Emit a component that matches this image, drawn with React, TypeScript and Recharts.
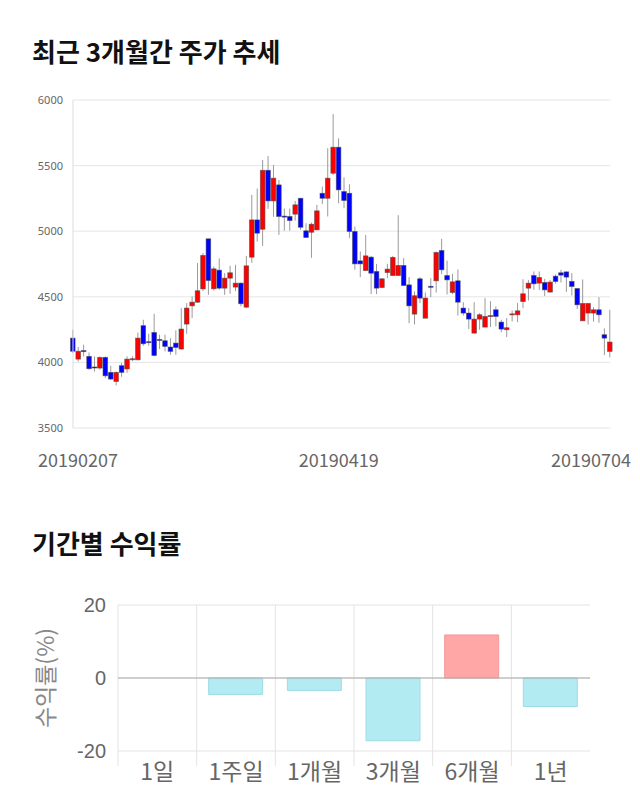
import React from 'react';
import { ComposedChart, BarChart, Bar, XAxis, YAxis, CartesianGrid, Cell, ReferenceLine } from 'recharts';

const dates = [
  '20190207','20190211','20190212','20190213','20190214','20190215','20190218','20190219','20190220','20190221',
  '20190222','20190225','20190226','20190227','20190228','20190304','20190305','20190306','20190307','20190308',
  '20190311','20190312','20190313','20190314','20190315','20190318','20190319','20190320','20190321','20190322',
  '20190325','20190326','20190327','20190328','20190329','20190401','20190402','20190403','20190404','20190405',
  '20190408','20190409','20190410','20190411','20190412','20190415','20190416','20190417','20190418','20190419',
  '20190422','20190423','20190424','20190425','20190426','20190429','20190430','20190503','20190507','20190508',
  '20190509','20190510','20190513','20190514','20190515','20190516','20190517','20190520','20190521','20190522',
  '20190523','20190524','20190527','20190528','20190529','20190530','20190531','20190603','20190604','20190605',
  '20190607','20190610','20190611','20190612','20190613','20190614','20190617','20190618','20190619','20190620',
  '20190621','20190624','20190625','20190626','20190627','20190628','20190701','20190702','20190703','20190704',
];

const opens = [
  4185, 4025, 4090, 4046, 3965, 3957, 4038, 3924, 3855, 3975,
  3950, 4025, 4020, 4280, 4158, 4228, 4175, 4165, 4117, 4147,
  4102, 4292, 4431, 4459, 4560, 4942, 4561, 4703, 4566, 4642,
  4574, 4604, 4421, 4802, 5086, 5015, 5464, 5231, 5353, 5115,
  5112, 5130, 5251, 5003, 4992, 5010, 5289, 5251, 5442, 5640,
  5302, 5289, 4998, 4774, 4700, 4802, 4693, 4571, 4685, 4662,
  4662, 4739, 4591, 4368, 4637, 4337, 4580, 4622, 4853, 4662,
  4533, 4622, 4414, 4376, 4223, 4330, 4269, 4352, 4401, 4307,
  4249, 4366, 4363, 4464, 4566, 4662, 4604, 4609, 4536, 4657,
  4683, 4690, 4617, 4563, 4317, 4376, 4376, 4401, 4211, 4084,
];
const highs = [
  4250, 4117, 4135, 4076, 4046, 4046, 4046, 3975, 3931, 3995,
  4046, 4046, 4228, 4325, 4218, 4370, 4211, 4211, 4185, 4244,
  4414, 4452, 4503, 4757, 4833, 4942, 4731, 4793, 4680, 4736,
  4744, 4609, 4812, 5277, 5325, 5543, 5574, 5505, 5391, 5173,
  5173, 5231, 5251, 5061, 5066, 5201, 5340, 5632, 5893, 5708,
  5411, 5358, 5036, 4845, 4972, 4812, 4751, 4642, 4751, 4812,
  5122, 4795, 4650, 4541, 4650, 4533, 4642, 4845, 4942, 4776,
  4675, 4708, 4459, 4414, 4459, 4376, 4490, 4467, 4426, 4325,
  4338, 4396, 4452, 4634, 4629, 4693, 4693, 4637, 4629, 4670,
  4706, 4693, 4680, 4563, 4632, 4454, 4421, 4497, 4259, 4401,
];
const lows = [
  4070, 4007, 4045, 3944, 3930, 3944, 3880, 3868, 3825, 3890,
  3920, 4010, 4015, 4127, 4127, 4046, 4102, 4084, 4058, 4058,
  4097, 4218, 4338, 4452, 4543, 4515, 4548, 4553, 4515, 4523,
  4543, 4427, 4414, 4759, 4921, 4888, 5170, 5109, 4972, 5003,
  5003, 5081, 5010, 4952, 4797, 5010, 5208, 5112, 5429, 5213,
  5175, 4947, 4706, 4650, 4700, 4521, 4521, 4566, 4642, 4662,
  4662, 4586, 4299, 4289, 4452, 4337, 4497, 4533, 4673, 4518,
  4520, 4357, 4357, 4254, 4223, 4249, 4269, 4269, 4274, 4229,
  4193, 4312, 4307, 4414, 4472, 4553, 4553, 4505, 4533, 4602,
  4609, 4538, 4510, 4406, 4317, 4289, 4310, 4302, 4056, 4038,
];
const closes = [
  4085, 4085, 4082, 3952, 3960, 4038, 3898, 3873, 3924, 3924,
  4025, 4028, 4185, 4142, 4155, 4053, 4172, 4122, 4084, 4114,
  4254, 4414, 4459, 4546, 4815, 4624, 4713, 4566, 4642, 4683,
  4604, 4447, 4736, 5086, 4985, 5464, 5231, 5404, 5112, 5112,
  5081, 5201, 5030, 4952, 5053, 5155, 5251, 5404, 5640, 5315,
  5234, 4998, 4751, 4751, 4812, 4680, 4566, 4637, 4711, 4800,
  4739, 4586, 4431, 4508, 4490, 4490, 4579, 4838, 4706, 4629,
  4614, 4459, 4376, 4330, 4330, 4363, 4350, 4357, 4350, 4254,
  4264, 4370, 4393, 4523, 4604, 4599, 4647, 4553, 4612, 4617,
  4665, 4650, 4579, 4439, 4449, 4449, 4401, 4363, 4185, 4155,
];

const priceTicks = [3500, 4000, 4500, 5000, 5500, 6000];
const dateTickIdx = [0, 49, 99];

const periods = ['1일', '1주일', '1개월', '3개월', '6개월', '1년'];
const returns = [0, -4.5, -3.4, -17.2, 11.8, -7.8];
const returnTicks = [-20, 0, 20];

const candleData = dates.map((d, i) => ({
  i,
  date: d,
  open: opens[i],
  high: highs[i],
  low: lows[i],
  close: closes[i],
  range: [lows[i], highs[i]],
}));
const returnData = periods.map((p, i) => ({ period: p, value: returns[i] }));

const KFONT = '"Noto Sans CJK KR", "Noto Sans", sans-serif';

const Candle = (props: any) => {
  const { x, y, width, height, payload } = props;
  if (x == null || y == null || !payload) return null;
  const { open, close, high, low } = payload;
  const cx = x + width / 2;
  const span = high - low;
  const toY = (p: number) => (span === 0 ? y : y + ((high - p) / span) * height);
  const up = close > open;
  const top = toY(Math.max(open, close));
  const bot = toY(Math.min(open, close));
  const bh = Math.max(bot - top, 1);
  return (
    <g>
      <line x1={cx} x2={cx} y1={y} y2={y + height} stroke="#9a9a9a" strokeWidth={1} />
      <rect x={cx - 2.3} y={top} width={4.6} height={bh} fill={up ? '#ff0000' : '#0000ff'} stroke="rgba(70,70,70,0.65)" strokeWidth={0.8} />
    </g>
  );
};

const DateTick = (props: any) => {
  const { x, y, payload } = props;
  const v = payload.value;
  const label = dates[v];
  const anchor = v === dateTickIdx[2] ? 'end' : 'middle';
  const dx = v === dateTickIdx[0] ? 5 : v === dateTickIdx[2] ? 21 : 0;
  return (
    <text x={x + dx} y={y} dy={39} textAnchor={anchor} fill="#666" fontSize={18} fontFamily={KFONT}>
      {label}
    </text>
  );
};

const PeriodTick = (props: any) => {
  const { x, y, payload, width, visibleTicksCount } = props;
  const bw = width / (visibleTicksCount || periods.length);
  const lx = x - bw / 2;
  return (
    <g>
      <line x1={lx} x2={lx} y1={y - 13} y2={y + 2} stroke="#e3e3e3" />
      <text x={x} y={y} dy="0.71em" textAnchor="middle" fill="#666" fontSize={23} fontFamily={KFONT}>
        {payload.value}
      </text>
    </g>
  );
};

export default function App() {
  return (
    <div style={{ position: 'absolute', left: 0, top: 0, width: 640, height: 810, background: '#fff', fontFamily: KFONT }}>
      <div style={{ position: 'absolute', left: 32, top: 35, fontSize: 26, fontWeight: 700, color: '#111', lineHeight: '32px', whiteSpace: 'nowrap' }}>
        최근 3개월간 주가 추세
      </div>
      <div style={{ position: 'absolute', left: 0, top: 0 }}>
        <ComposedChart width={640} height={480} data={candleData} margin={{ top: 100, right: 30, left: 0, bottom: 0 }}>
          <CartesianGrid vertical={false} stroke="#e6e6e6" />
          <XAxis
            dataKey="i"
            type="number"
            domain={[0, 99]}
            ticks={dateTickIdx}
            interval={0}
            height={52}
            axisLine={false}
            tickLine={false}
            tickSize={0}
            tickMargin={0}
            tick={<DateTick />}
          />
          <YAxis
            domain={[3500, 6000]}
            ticks={priceTicks}
            width={73}
            tickLine={false}
            tickSize={0}
            tickMargin={10}
            axisLine={{ stroke: '#dcdcdc' }}
            tick={{ fontSize: 11, fill: '#666', fontFamily: '"Noto Sans", sans-serif' }}
          />
          <Bar dataKey="range" barSize={5} shape={<Candle />} isAnimationActive={false} />
        </ComposedChart>
      </div>

      <div style={{ position: 'absolute', left: 32, top: 527, fontSize: 26, fontWeight: 700, color: '#111', lineHeight: '32px', whiteSpace: 'nowrap' }}>
        기간별 수익률
      </div>
      <div style={{ position: 'absolute', left: 0, top: 560 }}>
        <BarChart width={640} height={250} data={returnData} margin={{ top: 45, right: 50, left: 0, bottom: 0 }} barCategoryGap="15%">
          <CartesianGrid
            stroke="#e3e3e3"
            verticalCoordinatesGenerator={({ offset }: any) =>
              periods.map((_, i) => offset.left + (i * offset.width) / periods.length)
            }
          />
          <XAxis
            dataKey="period"
            height={59}
            axisLine={false}
            tickLine={false}
            tickSize={0}
            tickMargin={13}
            interval={0}
            tick={<PeriodTick />}
          />
          <YAxis
            domain={[-20, 20]}
            ticks={returnTicks}
            width={118}
            axisLine={false}
            tickLine={false}
            tickSize={0}
            tickMargin={12}
            tick={{ fontSize: 20, fill: '#666', fontFamily: '"Liberation Sans", Arial, sans-serif' }}
            label={{ value: '수익률(%)', angle: -90, position: 'center', dx: -13, fill: '#888', fontSize: 23, fontFamily: KFONT }}
          />
          <ReferenceLine y={0} stroke="#aaa" />
          <Bar dataKey="value" isAnimationActive={false} barSize={54}>
            {returnData.map((d, i) => (
              <Cell key={i} fill={d.value >= 0 ? '#ffa6a6' : '#b2ebf2'} stroke={d.value >= 0 ? '#f29a9a' : '#9fdbe5'} />
            ))}
          </Bar>
        </BarChart>
      </div>
    </div>
  );
}
